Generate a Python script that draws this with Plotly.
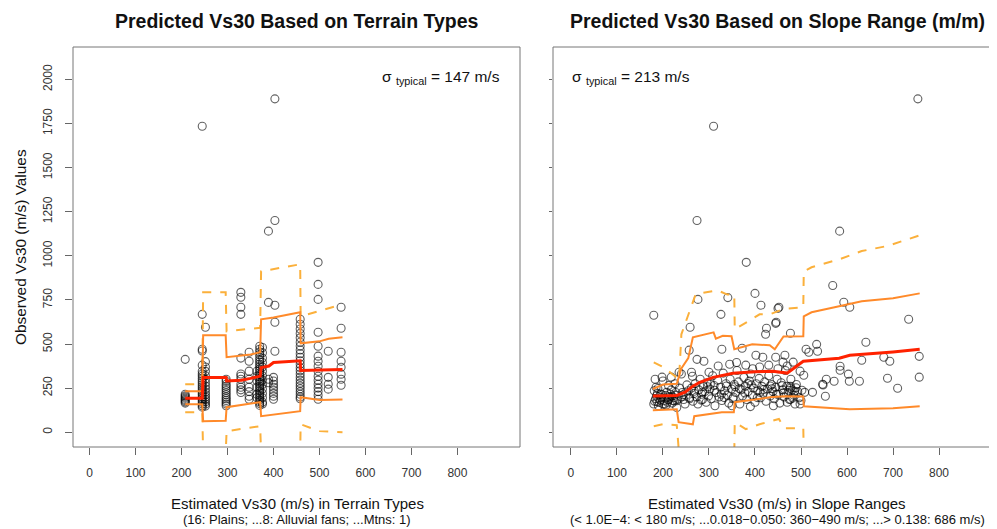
import plotly.graph_objects as go

# ---------------- LEFT PANEL: terrain types ----------------
L_COL_X = [208, 245, 252, 297, 329, 347, 364, 370, 376, 389, 403, 400, 458, 497, 519, 547]
L_Y_208 = [413, 215, 207, 200, 193, 186, 180, 172, 165]
L_Y_245 = [1735, 668, 470, 460, 380, 346, 330, 318, 305, 292, 280, 268, 256, 245, 234, 222, 212, 200, 190, 180, 170, 160, 150, 142]
L_Y_252 = [595, 400, 370, 345, 320, 300, 280, 262, 245, 228, 212, 198, 185, 172, 160, 148]
L_Y_297 = [300, 288, 272, 260, 248, 236, 224, 212, 200, 190, 180, 170, 160, 150]
L_Y_329 = [793, 765, 708, 668, 420, 330, 317, 300, 272, 255, 240, 225]
L_Y_347 = [453, 402, 346, 300, 255, 230, 204, 187]
L_Y_364 = [346, 317, 290, 255, 215, 195]
L_Y_370 = [487, 470, 455, 440, 425, 410, 398, 385, 372, 360, 348, 336, 325, 314, 303, 292, 282, 272, 262, 252, 242, 232, 222, 212, 202, 192, 182, 172, 162, 152]
L_Y_376 = [480, 450, 420, 395, 370, 345, 320, 295, 270, 245, 220, 195, 170, 160]
L_Y_389 = [736, 1140, 300, 280]
L_Y_403 = [1890, 1200, 720, 623, 459]
L_Y_400 = [311, 290, 272, 255, 238, 220, 204, 187]
L_Y_458 = [640, 612, 585, 560, 535, 510, 488, 466, 445, 425, 405, 385, 366, 348, 330, 312, 295, 278, 262, 246, 230, 215, 200, 190]
L_Y_497 = [963, 838, 753, 567, 487, 431, 402, 374, 345, 317, 295, 272, 250, 230, 210, 187]
L_Y_519 = [459, 311, 272, 244]
L_Y_547 = [708, 589, 453, 402, 368, 329, 300, 266]
L_COL_Y = [L_Y_208, L_Y_245, L_Y_252, L_Y_297, L_Y_329, L_Y_347, L_Y_364, L_Y_370,
           L_Y_376, L_Y_389, L_Y_403, L_Y_400, L_Y_458, L_Y_497, L_Y_519, L_Y_547]

L_MED_X = [208, 245, 247, 297, 298, 330, 350, 371, 373, 390, 400, 458, 459, 520, 550]
L_MED_Y = [192, 192, 310, 310, 290, 295, 305, 318, 366, 375, 395, 405, 350, 352, 355]
L_UP1_X = [208, 245, 247, 296, 298, 330, 350, 371, 373, 400, 430, 458, 459, 500, 520, 550]
L_UP1_Y = [232, 232, 549, 549, 425, 432, 440, 453, 640, 650, 665, 680, 504, 515, 530, 538]
L_LO1_X = [208, 245, 247, 296, 298, 330, 371, 373, 458, 459, 500, 550]
L_LO1_Y = [159, 159, 62, 65, 142, 155, 170, 91, 119, 198, 182, 185]
L_UP2_X = [208, 245, 247, 296, 298, 371, 373, 458, 459, 520, 550]
L_UP2_Y = [272, 272, 793, 793, 572, 592, 912, 952, 657, 700, 725]
L_LO2_X = [208, 245, 247, 296, 298, 371, 373, 458, 459, 500, 550]
L_LO2_Y = [113, 113, -120, -120, 6, 34, -120, -120, 45, 6, 0]

# ---------------- RIGHT PANEL: slope ranges ----------------
R_PTS_X = [180, 274, 310, 754, 584, 569, 593, 606, 734, 452, 445, 477, 534, 511, 517, 536, 641, 461, 483, 445,
           465, 632, 680, 693, 757, 585, 585, 603, 555, 572, 605, 627, 547, 548, 688, 757, 710, 553, 525, 508,
           502, 506, 498, 477, 477, 477, 482, 276, 381, 341, 326, 400, 413, 450, 259, 257, 274, 289, 328, 372,
           402, 417, 425, 423, 446,
           180, 182, 184, 186, 188, 181, 190, 192, 194, 196, 198, 185, 200, 202, 204, 206, 208, 210, 212, 214,
           216, 218, 220, 222, 224, 226, 228, 230, 183, 198, 218, 200, 212, 226, 236, 240, 242, 245, 248, 250,
           255, 258, 262, 265, 268, 270, 273, 276, 278, 281, 284, 286, 288, 291, 294, 296, 299, 302, 305, 308,
           311, 313, 316, 319, 322, 325, 328, 331, 334, 337, 340, 343, 346, 349, 352, 355, 358, 361, 364, 367,
           370, 373, 376, 379, 382, 385, 388, 391, 394, 397, 400, 403, 406, 409, 412, 415, 418, 421, 424, 427,
           430, 433, 436, 439, 442, 445, 448, 451, 454, 457, 460, 463, 466, 469, 472, 475, 478, 481, 484, 487,
           490, 493, 496, 320, 345, 360, 380, 395, 410, 430, 450, 470, 300, 262, 240, 235, 264, 350, 390, 440,
           470, 230, 500, 498,
           252, 268, 283, 297, 312, 327, 338, 353, 366, 378, 392, 405, 419, 433, 447, 462, 474, 489, 258, 286,
           303, 333, 357, 384, 411, 437, 459, 486, 187, 195, 203, 211, 219, 189, 207, 225, 232, 244]
R_PTS_Y = [663, 1200, 1735, 1890, 1140, 832, 737, 708, 640, 708, 617, 561, 498, 470, 453, 459, 510, 397, 397, 425,
           436, 408, 425, 402, 430, 374, 351, 329, 300, 289, 289, 289, 272, 268, 306, 312, 249, 204, 226, 226,
           238, 323, 346, 260, 249, 187, 193, 753, 963, 763, 668, 787, 720, 702, 595, 465, 413, 402, 470, 476,
           436, 425, 589, 555, 623,
           160, 175, 190, 205, 220, 235, 150, 168, 182, 197, 212, 255, 160, 178, 193, 208, 226, 170, 185, 200,
           215, 240, 165, 180, 195, 210, 225, 178, 300, 312, 312, 290, 265, 275, 250, 200, 225, 185, 160, 210,
           235, 190, 250, 175, 220, 275, 200, 160, 240, 300, 215, 185, 260, 230, 170, 280, 205, 245, 190, 320,
           265, 150, 225, 295, 200, 255, 180, 335, 235, 275, 210, 165, 300, 245, 190, 270, 225, 350, 285, 160,
           240, 205, 310, 260, 185, 230, 290, 330, 210, 250, 170, 275, 235, 305, 195, 260, 220, 285, 175, 245,
           320, 205, 270, 230, 190, 255, 300, 215, 165, 280, 240, 200, 350, 260, 225, 185, 300, 240, 210, 160,
           270, 230, 195, 375, 385, 395, 380, 360, 370, 380, 360, 375, 340, 340, 330, 340, 317, 150, 145, 150,
           170, 140, 180, 160,
           268, 232, 182, 258, 238, 215, 262, 198, 248, 222, 268, 196, 242, 262, 216, 224, 238, 252, 196, 228,
           272, 196, 258, 276, 226, 246, 264, 232, 172, 216, 158, 182, 204, 248, 154, 176, 188, 212]

R_MED_X = [178, 200, 230, 248, 265, 280, 309, 352, 400, 439, 470, 496, 505, 583, 606, 700, 758]
R_MED_Y = [205, 208, 208, 227, 261, 283, 311, 334, 343, 346, 335, 385, 402, 419, 436, 455, 470]
R_UP1_X = [178, 200, 230, 240, 255, 265, 310, 315, 330, 349, 355, 394, 432, 443, 462, 505, 506, 523, 573, 632, 700, 758]
R_UP1_Y = [245, 270, 275, 362, 420, 538, 566, 530, 547, 544, 470, 498, 493, 470, 543, 544, 657, 680, 708, 742, 760, 787]
R_LO1_X = [178, 230, 234, 265, 268, 328, 354, 356, 400, 432, 464, 505, 506, 606, 700, 758]
R_LO1_Y = [125, 130, 57, 45, 91, 113, 113, 170, 185, 198, 204, 202, 147, 130, 136, 147]
R_UP2_X = [180, 200, 220, 235, 240, 271, 318, 340, 355, 356, 410, 432, 464, 505, 506, 523, 583, 632, 688, 758]
R_UP2_Y = [396, 370, 330, 300, 555, 782, 805, 780, 780, 583, 668, 668, 700, 708, 912, 935, 980, 1027, 1056, 1116]
R_LO2_X = [180, 200, 230, 235, 260, 355, 356, 380, 410, 432, 452, 464, 505, 506]
R_LO2_Y = [34, 45, 40, -120, -120, -120, 57, 17, 45, 62, 75, 23, 23, -120]

X_TICKS = [0, 100, 200, 300, 400, 500, 600, 700, 800]
Y_TICKS = [0, 250, 500, 750, 1000, 1250, 1500, 1750, 2000]

FONT = "Liberation Sans, Arial, Helvetica, sans-serif"
# The page body has an 8px default margin; lay the figure out in page pixels.
SH = 8
W, H = 997 - SH, 529 - SH


def fx(px):
    return (px - SH) / W


def fy(py):
    return 1 - (py - SH) / H


lx, ly = [], []
for cx, ys in zip(L_COL_X, L_COL_Y):
    for v in ys:
        lx.append(cx)
        ly.append(v)

marker = dict(symbol="circle-open", size=8, color="rgba(0,0,0,0.62)", line=dict(width=1.1))
RED = "#ff2200"
ORG = "#ff8a2a"
DSH = "#fbb03b"

fig = go.Figure()
fig.add_trace(go.Scatter(x=lx, y=ly, mode="markers", marker=marker, xaxis="x", yaxis="y", hoverinfo="skip"))
fig.add_trace(go.Scatter(x=R_PTS_X, y=R_PTS_Y, mode="markers", marker=marker, xaxis="x2", yaxis="y2", hoverinfo="skip"))

for ax, ay, sets in [("x", "y", [(L_UP2_X, L_UP2_Y, DSH, 2, "dash"), (L_LO2_X, L_LO2_Y, DSH, 2, "dash"),
                                 (L_UP1_X, L_UP1_Y, ORG, 2, "solid"), (L_LO1_X, L_LO1_Y, ORG, 2, "solid"),
                                 (L_MED_X, L_MED_Y, RED, 3, "solid")]),
                     ("x2", "y2", [(R_UP2_X, R_UP2_Y, DSH, 2, "dash"), (R_LO2_X, R_LO2_Y, DSH, 2, "dash"),
                                   (R_UP1_X, R_UP1_Y, ORG, 2, "solid"), (R_LO1_X, R_LO1_Y, ORG, 2, "solid"),
                                   (R_MED_X, R_MED_Y, RED, 3, "solid")])]:
    for xs, ys, col, wdt, dsh in sets:
        fig.add_trace(go.Scatter(x=xs, y=ys, mode="lines", xaxis=ax, yaxis=ay, hoverinfo="skip",
                                 line=dict(color=col, width=wdt, dash=dsh)))

YDOM = [fy(447), fy(47)]
tickfont = dict(family=FONT, size=12, color="#333")
common_x = dict(tickvals=X_TICKS, ticks="outside", ticklen=7, tickcolor="#666", tickwidth=1,
                showgrid=False, zeroline=False, showline=False, tickfont=tickfont, ticklabelstandoff=8)
fig.update_layout(
    width=W, height=H, margin=dict(l=0, r=0, t=0, b=0),
    plot_bgcolor="white", paper_bgcolor="white", showlegend=False,
    xaxis=dict(domain=[fx(73), fx(520)], range=[-36, 936], anchor="y", **common_x),
    xaxis2=dict(domain=[fx(553), 1.0], range=[-39, 926], anchor="y2", **common_x),
    yaxis=dict(domain=YDOM, range=[-84, 2184], tickvals=Y_TICKS, tickangle=-90, ticks="outside",
               ticklen=7, tickcolor="#666", showgrid=False, zeroline=False, showline=False,
               tickfont=tickfont, anchor="x", ticklabelstandoff=8),
    yaxis2=dict(domain=YDOM, range=[-84, 2184], tickvals=Y_TICKS, ticks="outside", ticklen=3,
                tickcolor="#666", showgrid=False, zeroline=False, showline=False,
                showticklabels=False, anchor="x2"),
)

box = dict(color="#777", width=1)
fig.add_shape(type="rect", xref="x domain", yref="y domain", x0=0, x1=1, y0=0, y1=1, line=box)
fig.add_shape(type="line", xref="x2 domain", yref="y2 domain", x0=0, x1=0, y0=0, y1=1, line=box)
fig.add_shape(type="line", xref="x2 domain", yref="y2 domain", x0=0, x1=1, y0=0, y1=0, line=box)
fig.add_shape(type="line", xref="x2 domain", yref="y2 domain", x0=0, x1=1, y0=1, y1=1, line=box)


def ann(text, px, py, size, bold=False, angle=0, xanchor="center", yanchor="middle", pad=1):
    fig.add_annotation(text=f"<b>{text}</b>" if bold else text, x=fx(px), y=fy(py),
                       xref="paper", yref="paper", showarrow=False, textangle=angle,
                       xanchor=xanchor, yanchor=yanchor, borderpad=pad,
                       font=dict(family=FONT, size=size, color="#111"))


ann("Predicted Vs30 Based on Terrain Types", 297, SH + 0.5, 19.5, bold=True, yanchor="top", pad=0)
ann("Predicted Vs30 Based on Slope Range (m/m)", 777, SH + 0.5, 19.5, bold=True, yanchor="top", pad=0)
ann("Observed Vs30 (m/s) Values", 20, 247, 15.4, angle=-90)
ann("Estimated Vs30 (m/s) in Terrain Types", 297, 503, 15)
ann("(16: Plains; ...8: Alluvial fans; ...Mtns: 1)", 297, 519, 13)
ann("Estimated Vs30 (m/s) in Slope Ranges", 777, 503, 15)
ann("(< 1.0E\u22124: < 180 m/s; ...0.018\u22120.050: 360\u2212490 m/s; ...> 0.138: 686 m/s)", 777, 519, 13)
ann("\u03c3 <sub>typical</sub> = 147 m/s", 380, 77, 15.5, xanchor="left")
ann("\u03c3 <sub>typical</sub> = 213 m/s", 570, 77, 15.5, xanchor="left")

fig.write_html("out.html")
